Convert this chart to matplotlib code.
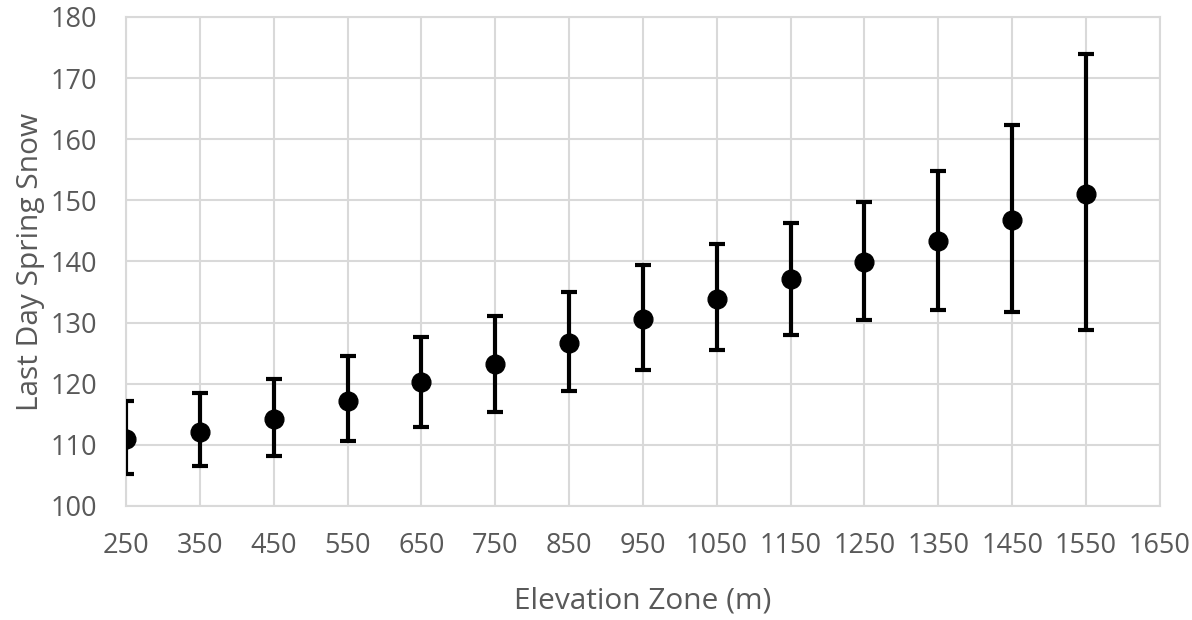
import matplotlib
matplotlib.use("Agg")
import matplotlib.pyplot as plt
import numpy as np

elevation = [250, 350, 450, 550, 650, 750, 850, 950, 1050, 1150, 1250, 1350, 1450, 1550]
mean_day = [111.0, 112.1, 114.3, 117.2, 120.2, 123.2, 126.6, 130.6, 133.9, 137.2, 139.9, 143.3, 146.8, 151.0]
upper = [117.1, 118.4, 120.8, 124.5, 127.7, 131.0, 135.0, 139.4, 142.8, 146.3, 149.7, 154.8, 162.4, 174.0]
lower = [105.2, 106.5, 108.1, 110.6, 112.9, 115.4, 118.8, 122.3, 125.5, 127.9, 130.5, 132.0, 131.7, 128.8]
xticks = list(range(250, 1651, 100))
yticks = list(range(100, 181, 10))

plt.rcParams['font.family'] = ['Open Sans', 'DejaVu Sans']

fig = plt.figure(figsize=(11.92, 6.2), dpi=100)
ax = fig.add_axes([0.1057, 0.184, 0.8673, 0.7886])

m = np.array(mean_day)
yerr = [m - np.array(lower), np.array(upper) - m]
ax.errorbar(elevation, mean_day, yerr=yerr, fmt='o', color='black', ms=13.5,
            elinewidth=3, capsize=6, capthick=3, zorder=3)

ax.set_xlim(250, 1650)
ax.set_ylim(100, 180)
ax.set_xticks(xticks)
ax.set_yticks(yticks)
ax.grid(True, color='#d9d9d9', linewidth=1.5, zorder=0)
ax.set_axisbelow(True)
for s in ax.spines.values():
    s.set_color('#d9d9d9')
    s.set_linewidth(1.5)
ax.tick_params(axis='both', length=0, labelsize=19.5, labelcolor='#595959')
ax.tick_params(axis='y', pad=21)
ax.tick_params(axis='x', pad=19)
ax.set_xlabel('Elevation Zone (m)', fontsize=21.5, color='#595959', labelpad=19)
ax.set_ylabel('Last Day Spring Snow', fontsize=21.5, color='#595959', labelpad=4)

fig.savefig('out.png', dpi=100)
